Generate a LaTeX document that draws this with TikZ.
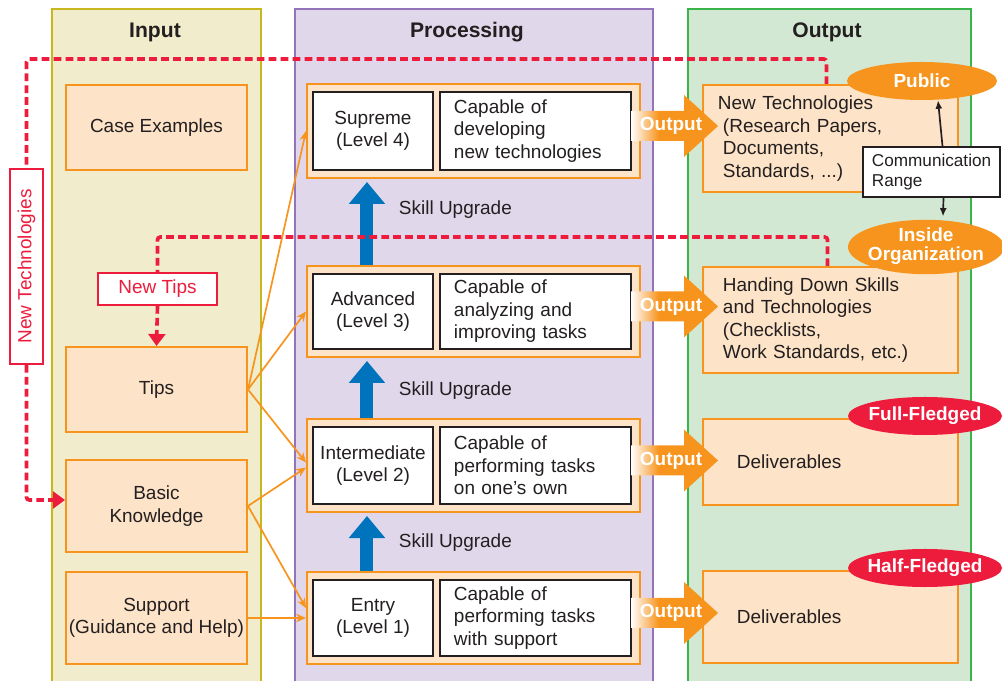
\documentclass[tikz,border=0pt]{standalone}
\usepackage{fontspec}
\setmainfont{Liberation Sans}
\usetikzlibrary{arrows.meta,calc,shapes.geometric}

\definecolor{inyellow}{HTML}{F1ECCB}
\definecolor{inborder}{HTML}{C8B820}
\definecolor{proclilac}{HTML}{E0D7EA}
\definecolor{procborder}{HTML}{9474B8}
\definecolor{outgreen}{HTML}{D3E8D2}
\definecolor{outborder}{HTML}{3BB54A}
\definecolor{peach}{HTML}{FDE3C7}
\definecolor{boxorange}{HTML}{F7941D}
\definecolor{tipred}{HTML}{ED1C3C}
\definecolor{upblue}{HTML}{0073BD}
\definecolor{ink}{HTML}{231F20}

\pgfdeclarehorizontalshading{outfade}{100bp}{color(0bp)=(white); color(25bp)=(white); color(41bp)=(boxorange); color(100bp)=(boxorange)}

\newcommand{\pix}{0.025cm}
\newcommand{\txt}{\fontsize{13.5}{16}\selectfont}

\begin{document}
\begin{tikzpicture}[x=\pix,y=-\pix,
  every node/.style={font=\txt,text=ink},
  title/.style={font=\fontsize{15}{18}\selectfont\bfseries},
  inbox/.style={draw=boxorange,fill=peach,line width=1.4pt,minimum width=4.525cm,align=center,inner sep=0pt},
  lvbox/.style={draw=boxorange,fill=peach,line width=1.4pt,minimum width=8.325cm,inner sep=0pt},
  namebox/.style={draw=ink,fill=white,line width=2pt,minimum width=3cm,align=center,inner sep=0pt},
  descbox/.style={draw=ink,fill=white,line width=2pt,minimum width=4.775cm,text width=4.075cm,align=left,inner sep=0pt},
  outbox/.style={draw=boxorange,fill=peach,line width=1.4pt,minimum width=6.375cm,align=left,inner sep=0pt},
  outword/.style={font=\txt\bfseries,text=white},
  tag/.style={ellipse,inner sep=0pt,font=\fontsize{13.5}{13}\selectfont\bfseries,text=white,minimum width=3.85cm,minimum height=0.95cm},
  newbox/.style={draw=tipred,fill=white,line width=1.4pt,text=tipred,inner sep=0pt},
  tipline/.style={draw=tipred,line width=2.6pt,dash pattern=on 5.5pt off 3pt,rounded corners=2pt},
  feed/.style={draw=boxorange,line width=1.2pt,-{Stealth[length=7pt,width=6pt]}},
  upgrade/.style={draw=upblue,line width=0.325cm,-{Triangle[length=0.55cm,width=0.875cm]},shorten >=0.075cm},
  rangearrow/.style={draw=ink,line width=1.2pt,-{Latex[length=6pt,width=5pt]}}
]
\useasboundingbox (0,0) rectangle (1002,681);

\draw[fill=inyellow,draw=inborder,line width=1.5pt] (52,9) rectangle (261,700);
\draw[fill=proclilac,draw=procborder,line width=1.5pt] (295,9) rectangle (653,700);
\draw[fill=outgreen,draw=outborder,line width=1.5pt] (688,9) rectangle (971,700);

\node[title] (tin) at (155,32) {Input};
\node[title] (tproc) at (467,32) {Processing};
\node[title] (tout) at (827,32) {Output};

\node[inbox,minimum height=2.125cm] (case) at (156.5,127.5) {Case Examples};
\node[inbox,minimum height=2.125cm] (tips) at (156.5,389.5) {Tips};
\node[inbox,minimum height=2.3cm] (bk) at (156.5,506) {Basic\\Knowledge};
\node[inbox,minimum height=2.3cm] (sup) at (156.5,618) {Support\\(Guidance and Help)};

\node[lvbox,minimum height=2.35cm] (l4) at (473.5,131) {};
\node[namebox,minimum height=1.95cm] (n4) at (373,131) {Supreme\\(Level 4)};
\node[descbox,minimum height=1.95cm] (d4) at (535.5,131) {Capable of\\developing\\new technologies};

\node[lvbox,minimum height=2.275cm] (l3) at (473.5,311.5) {};
\node[namebox,minimum height=1.875cm] (n3) at (373,311.5) {Advanced\\(Level 3)};
\node[descbox,minimum height=1.875cm] (d3) at (535.5,311.5) {Capable of\\analyzing and\\improving tasks};

\node[lvbox,minimum height=2.325cm] (l2) at (473.5,465.5) {};
\node[namebox,minimum height=1.925cm] (n2) at (373,465.5) {Intermediate\\(Level 2)};
\node[descbox,minimum height=1.925cm] (d2) at (535.5,465.5) {Capable of\\performing tasks\\on one’s own};

\node[lvbox,minimum height=2.3cm] (l1) at (473.5,618) {};
\node[namebox,minimum height=1.9cm] (n1) at (373,618) {Entry\\(Level 1)};
\node[descbox,minimum height=1.9cm] (d1) at (535.5,618) {Capable of\\performing tasks\\with support};

\node[outbox,minimum height=2.675cm,text width=5.625cm] (nt) at (830.5,138.5) {New Technologies\\\hspace*{0.125cm}(Research Papers,\\\hspace*{0.125cm}Documents,\\\hspace*{0.125cm}Standards, ...)};
\node[outbox,minimum height=2.65cm,text width=5.375cm] (hd) at (830.5,320) {Handing Down Skills\\and Technologies\\(Checklists,\\Work Standards, etc.)};
\node[outbox,minimum height=2.15cm,text width=4.675cm] (dv2) at (830.5,462) {Deliverables};
\node[outbox,minimum height=2.3cm,text width=4.675cm] (dv1) at (830.5,617) {Deliverables};

\foreach \lv in {l4,l3,l2,l1}{
  \begin{scope}[shift={($(\lv.east)+(0,-5)$)}]
    \path[shading=outfade] (-10,-15) -- (43,-15) -- (43,-31) -- (77,0) -- (43,31) -- (43,15) -- (-10,15) -- cycle;
    \node[outword] (out-\lv) at (30,0) {Output};
  \end{scope}
}

\draw[upgrade] ($(l3.north west)+(61,0)$) -- ($(l4.south west)+(61,0)$);
\draw[upgrade] ($(l2.north west)+(61,0)$) -- ($(l3.south west)+(61,0)$);
\draw[upgrade] ($(l1.north west)+(61,0)$) -- ($(l2.south west)+(61,0)$);
\node[anchor=west] (up43) at (394,210) {Skill Upgrade};
\node[anchor=west] (up32) at (394,391) {Skill Upgrade};
\node[anchor=west] (up21) at (394,543) {Skill Upgrade};

\draw[feed] (tips.east) -- (l4.west);
\draw[feed] (tips.east) -- (l3.west);
\draw[feed] (tips.east) -- ($(l2.west)+(0,-3)$);
\draw[feed] (bk.east) -- ($(l2.west)+(0,2)$);
\draw[feed] (bk.east) -- ($(l1.west)+(0,-10)$);
\draw[feed] (sup.east) -- (sup.east -| l1.west);

\node[newbox,rotate=90,minimum width=4.875cm,minimum height=0.825cm] (ntv) at (26.5,266.5) {New Technologies};
\node[newbox,minimum width=2.975cm,minimum height=0.8cm] (newtips) at (157.5,289) {New Tips};

\draw[tipline] ($(nt.north)+(-4,0)$) -- ++(0,-25) -| (ntv.east);
\draw[tipline,-{Triangle[length=0.3cm,width=0.42cm]}] (ntv.west) |- ($(bk.west)+(0,-6)$);
\draw[tipline] ($(hd.north)+(-3,0)$) -- ++(0,-29) -| (newtips.north);
\draw[tipline,-{Triangle[length=0.3cm,width=0.42cm]}] (newtips.south) -- (tips.north);

\node[tag,fill=boxorange,minimum width=3.75cm] (pub) at (922,81) {\makebox[0pt]{Public}};
\node[tag,fill=boxorange,minimum width=3.9cm,minimum height=1.3cm] (ins) at (926,247) {\makebox[0pt]{\begin{tabular}{@{}c@{}}Inside\\Organization\end{tabular}}};
\node[tag,fill=tipred] (full) at (925,416) {\makebox[0pt]{Full-Fledged}};
\node[tag,fill=tipred] (half) at (925,568) {\makebox[0pt]{Half-Fledged}};

\node[draw=ink,fill=white,line width=1.4pt,minimum width=3.425cm,minimum height=1.25cm,text width=2.975cm,align=left,inner sep=0pt,font=\fontsize{12.2}{14}\selectfont] (cr) at (931.5,172) {Communication\\Range};
\draw[rangearrow] ($(cr.north)+(11,0)$) -- ($(pub.south)+(16,0)$);
\draw[rangearrow] ($(cr.south)+(12,0)$) -- ($(ins.north)+(17,-3)$);
\end{tikzpicture}
\end{document}
